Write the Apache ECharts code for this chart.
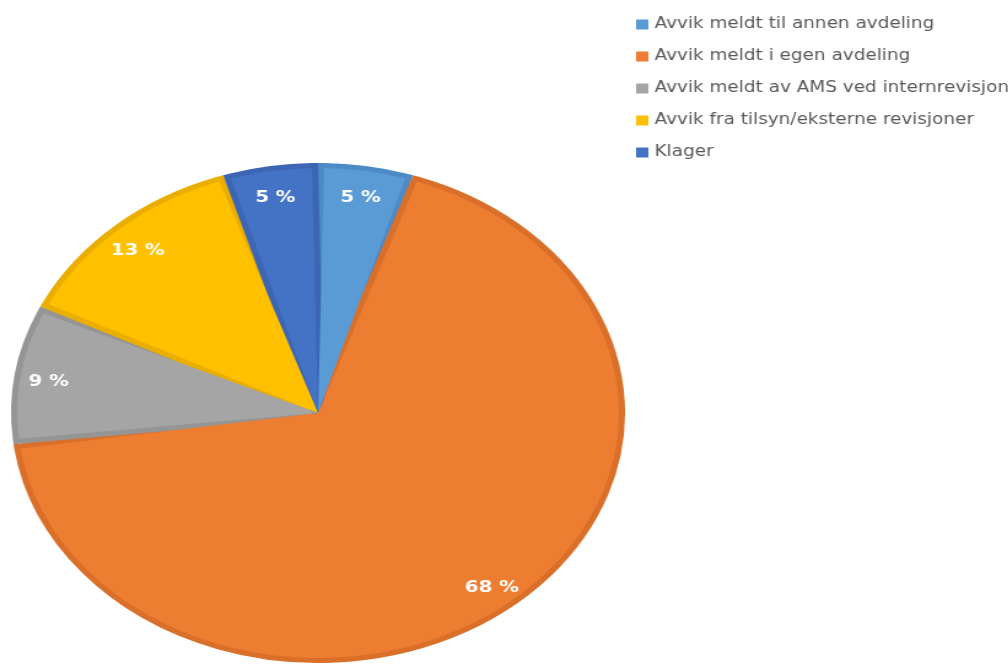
<!DOCTYPE html>
<html>
<head>
<meta charset="utf-8">
<script src="https://cdn.jsdelivr.net/npm/echarts@6/dist/echarts.min.js"></script>
<style>
  html, body { margin: 0; padding: 0; background: #ffffff; overflow: hidden; }
  #wrap { width: 1008px; height: 664px; overflow: hidden; position: relative; }
  /* the chart is drawn narrower and stretched horizontally into an oval */
  #chart { width: 821px; height: 664px; transform: scaleX(1.228); transform-origin: 0 0; }
</style>
</head>
<body>
<div id="wrap"><div id="chart"></div></div>
<script>
const categories = [
  'Avvik meldt til annen avdeling',
  'Avvik meldt i egen avdeling',
  'Avvik meldt av AMS ved internrevisjon',
  'Avvik fra tilsyn/eksterne revisjoner',
  'Klager'
];
const shares = [5, 68, 9, 13, 5];
const fillColors = ['#5B9BD5', '#ED7D31', '#A5A5A5', '#FFC000', '#4472C4'];
const edgeColors = ['#4D8BC6', '#D96F29', '#959595', '#E9AE00', '#3C66B4'];

const chart = echarts.init(document.getElementById('chart'), null, { renderer: 'canvas' });

const cx = 259, cy = 413, R = 250, EDGE = 5, PAD = 2.3;

const fillData = categories.map((name, i) => ({
  name, value: shares[i], itemStyle: { color: fillColors[i] }
}));
const edgeData = categories.map((name, i) => ({
  name, value: shares[i], itemStyle: { color: edgeColors[i], borderColor: edgeColors[i] }
}));
const labelData = categories.map((name, i) => ({ name, value: shares[i] }));

const common = {
  type: 'pie',
  center: [cx, cy],
  startAngle: 90,
  clockwise: true,
  silent: true,
  labelLine: { show: false }
};

chart.setOption({
  animation: false,
  color: fillColors,
  legend: {
    orient: 'vertical',
    left: 513,
    top: 12,
    itemWidth: 10,
    itemHeight: 10,
    itemGap: 17,
    icon: 'rect',
    itemStyle: { borderWidth: 0 },
    textStyle: { fontFamily: 'DejaVu Sans', fontSize: 15, color: '#595959' },
    data: categories
  },
  series: [
    // slice bodies, inset from the rim and separated from each other
    Object.assign({}, common, {
      z: 3,
      radius: [0, R - EDGE],
      padAngle: PAD,
      label: { show: false },
      itemStyle: { borderWidth: 0 },
      data: fillData
    }),
    // same slices with a thick darker outline that shows as the inner edge
    Object.assign({}, common, {
      z: 2,
      radius: [0, R - EDGE],
      padAngle: PAD,
      label: { show: false },
      itemStyle: { borderWidth: EDGE * 2, borderJoin: 'miter', borderMiterLimit: 4 },
      data: edgeData
    }),
    // percentage labels near the outer edge
    Object.assign({}, common, {
      z: 4,
      center: [cx, cy + 4],
      radius: [192, 246],
      itemStyle: { color: 'rgba(0,0,0,0)', borderWidth: 0 },
      label: {
        show: true,
        position: 'inside',
        formatter: p => p.value + ' %',
        color: '#ffffff',
        fontFamily: 'DejaVu Sans',
        fontWeight: 'bold',
        fontSize: 16
      },
      data: labelData
    })
  ]
});
</script>
</body>
</html>
